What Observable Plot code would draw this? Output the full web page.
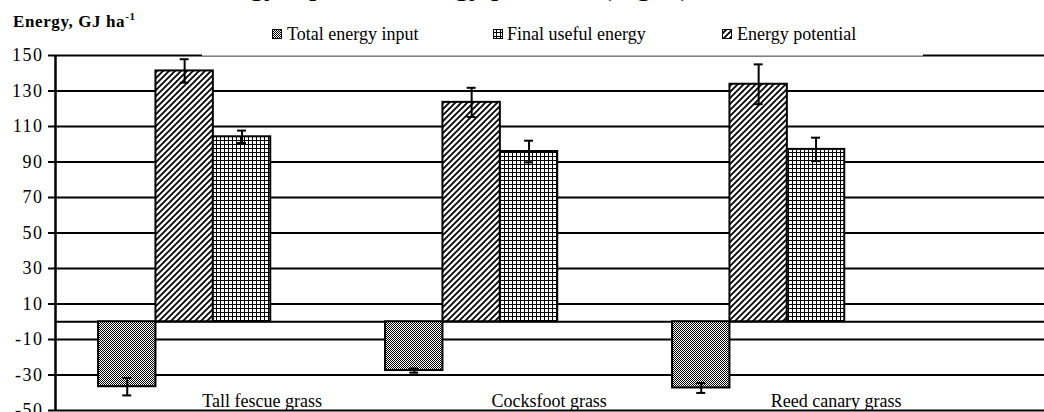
<!DOCTYPE html>
<html><head><meta charset="utf-8">
<script src="https://cdn.jsdelivr.net/npm/d3@7"></script>
<script src="https://cdn.jsdelivr.net/npm/@observablehq/plot@0.6"></script>
<style>
html,body{margin:0;padding:0;background:#fff;}
svg{display:block;}
g[aria-label="y-axis tick label"] text{letter-spacing:1.5px;}
</style></head><body>
<div id="chart"></div>
<script>
// ---- data ----
const categories = ["Tall fescue grass", "Cocksfoot grass", "Reed canary grass"];
const seriesOrder = ["Total energy input", "Energy potential", "Final useful energy"]; // bar order within group
const legendOrder = ["Total energy input", "Final useful energy", "Energy potential"];
const totalInput = [-36.6, -27.5, -37.3];
const energyPotential = [141.3, 123.6, 133.8];
const finalUseful = [104.2, 95.9, 97.1];
const totalInputErr = [4.9, 1.2, 2.8];
const energyPotentialErr = [6.6, 8.2, 11.2];
const finalUsefulErr = [3.5, 6.1, 6.6];
const yTicks = [150, 130, 110, 90, 70, 50, 30, 10, -10, -30, -50];
const titleText = "Energy input and energy potential (Fig. 3)";

// ---- layout helpers ----
const slotsPerCategory = 5;   // 3 bars + gap
const xDomain = [-0.75, 16.48];
const capHalf = 0.078;
const patternOf = {
  "Total energy input": "url(#pInput)",
  "Energy potential": "url(#pPotential)",
  "Final useful energy": "url(#pUseful)"
};
const valuesOf = {
  "Total energy input": [totalInput, totalInputErr],
  "Energy potential": [energyPotential, energyPotentialErr],
  "Final useful energy": [finalUseful, finalUsefulErr]
};
const rows = [];
categories.forEach((c, i) => {
  seriesOrder.forEach((s, j) => {
    const [vals, errs] = valuesOf[s];
    const x1 = i * slotsPerCategory + j;
    rows.push({category: c, series: s, value: vals[i], err: errs[i], x1, x2: x1 + 1, xc: x1 + 0.5});
  });
});

const barMarks = seriesOrder.map(s => Plot.rect(rows.filter(d => d.series === s), {
  x1: "x1", x2: "x2", y1: 0, y2: "value",
  fill: patternOf[s], stroke: "black", strokeWidth: 2
}));

const chart = Plot.plot({
  width: 1044, height: 412,
  marginTop: 55, marginBottom: 2, marginLeft: 55, marginRight: 0,
  style: {fontFamily: "'Liberation Serif','Times New Roman',serif", fontSize: "18px", color: "#000", background: "#fff"},
  x: {domain: xDomain, axis: null},
  y: {domain: [-50, 150], axis: null, label: null},
  marks: [
    Plot.ruleY(yTicks.concat([0]), {stroke: "black", strokeWidth: 2}),
    ...barMarks,
    Plot.ruleX(rows, {x: "xc", y1: d => d.value - d.err, y2: d => d.value + d.err, stroke: "black", strokeWidth: 2}),
    Plot.ruleY(rows, {x1: d => d.xc - capHalf, x2: d => d.xc + capHalf, y: d => d.value - d.err, stroke: "black", strokeWidth: 2}),
    Plot.ruleY(rows, {x1: d => d.xc - capHalf, x2: d => d.xc + capHalf, y: d => d.value + d.err, stroke: "black", strokeWidth: 2}),
    Plot.ruleX([xDomain[0]], {stroke: "black", strokeWidth: 2.5}),
    Plot.axisY({ticks: yTicks, tickSize: 7, tickPadding: 5, strokeWidth: 2, fontSize: 18, label: null, tickFormat: d => String(d)}),
    Plot.text(categories, {x: (d, i) => i * slotsPerCategory + 2.85, y: -50, dy: -4, lineAnchor: "bottom", fontSize: 18, text: d => d, fill: "black"})
  ]
});
document.getElementById("chart").appendChild(chart);

// ---- patterns ----
const svg = d3.select(chart);
const defs = svg.insert("defs", ":first-child");
const p1 = defs.append("pattern").attr("id", "pInput").attr("patternUnits", "userSpaceOnUse").attr("width", 2).attr("height", 2);
p1.append("rect").attr("width", 2).attr("height", 2).attr("fill", "white");
p1.append("rect").attr("width", 1).attr("height", 1).attr("fill", "black");
p1.append("rect").attr("x", 1).attr("y", 1).attr("width", 1).attr("height", 1).attr("fill", "black");
const p2 = defs.append("pattern").attr("id", "pPotential").attr("patternUnits", "userSpaceOnUse").attr("width", 6).attr("height", 6);
p2.append("rect").attr("width", 6).attr("height", 6).attr("fill", "white");
p2.append("path").attr("d", "M0,6 L6,0 M-1,1 L1,-1 M5,7 L7,5").attr("stroke", "black").attr("stroke-width", 1.8);
const p3 = defs.append("pattern").attr("id", "pUseful").attr("patternUnits", "userSpaceOnUse").attr("width", 4).attr("height", 4);
p3.append("rect").attr("width", 4).attr("height", 4).attr("fill", "white");
p3.append("rect").attr("width", 4).attr("height", 1).attr("fill", "black");
p3.append("rect").attr("width", 1).attr("height", 4).attr("fill", "black");

// ---- overlay group with start-anchored text ----
const g = svg.append("g").attr("text-anchor", "start").attr("fill", "black");

// ---- title (cut off at top) ----
g.append("text").attr("x", 194).attr("y", -5.5).attr("font-size", 29.5).text(titleText);

// ---- y-axis title ----
const yt = g.append("text").attr("x", 13).attr("y", 27).attr("font-weight", "bold").attr("font-size", 17).attr("letter-spacing", 0.6);
yt.append("tspan").text("Energy, GJ ha");
yt.append("tspan").attr("font-size", 11).attr("dy", -7).text("-1");

// ---- legend ----
g.append("rect").attr("x", 202).attr("y", 18).attr("width", 721).attr("height", 38).attr("fill", "white");
g.append("line").attr("x1", 202).attr("x2", 923).attr("y1", 55.5).attr("y2", 55.5).attr("stroke", "#b4b4b4").attr("stroke-width", 1);
const swX = [272, 493, 722];
const txX = [287, 507, 737];
legendOrder.forEach((s, k) => {
  g.append("rect").attr("x", swX[k] + 0.5).attr("y", 29.5).attr("width", 9).attr("height", 9)
    .attr("fill", patternOf[s]).attr("stroke", "black").attr("stroke-width", 1);
  g.append("text").attr("x", txX[k]).attr("y", 40).attr("font-size", 18).text(s);
});
</script>
</body></html>
